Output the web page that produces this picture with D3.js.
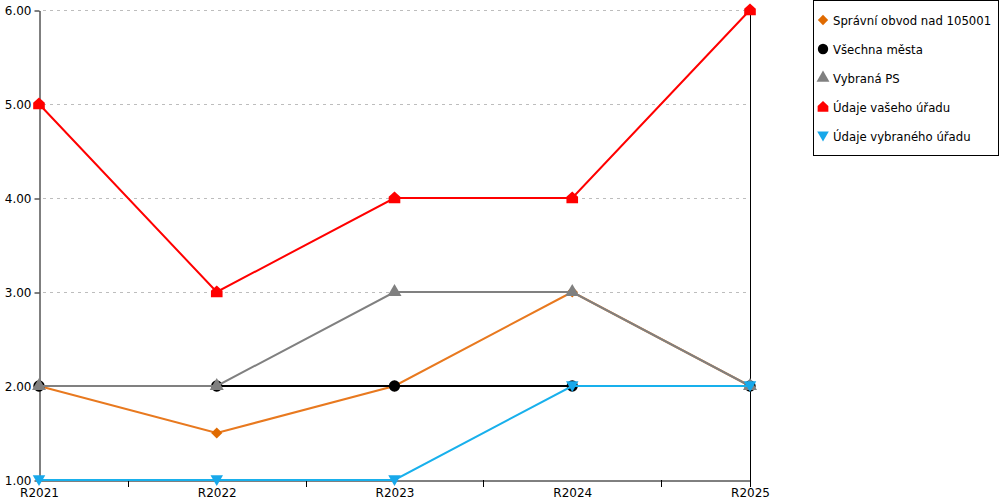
<!DOCTYPE html>
<html><head><meta charset="utf-8">
<script src="https://cdn.jsdelivr.net/npm/d3@7"></script>
<style>
html,body{margin:0;padding:0;background:#fff;}
svg{display:block;font-family:"DejaVu Sans",Verdana,sans-serif;}
</style></head>
<body><svg id="c" width="1000" height="500"></svg>
<script>
const categories = ["R2021","R2022","R2023","R2024","R2025"];
const yTicks = [1,2,3,4,5,6];
const seriesNames = ["Správní obvod nad 105001","Všechna města","Vybraná PS","Údaje vašeho úřadu","Údaje vybraného úřadu"];
const seriesColors = ["#e8791f","#000000","#808080","#ff0000","#18b0ec"];
const markerColors = ["#e06a00","#000000","#808080","#ff0000","#18a8ea"];
const valsObvod = [2,1.5,2,3,2];
const valsMesta = [2,2,2,2,2];
const valsPS = [2,2,3,3,2];
const valsVas = [5,3,4,4,6];
const valsVybrany = [1,1,1,2,2];
const seriesValues = [valsObvod,valsMesta,valsPS,valsVas,valsVybrany];

const house = {draw(ctx,size){
  const s = Math.sqrt(size)/2;
  ctx.moveTo(0,-s*1.1);
  ctx.lineTo(s,-s*0.2);
  ctx.lineTo(s,s*0.9);
  ctx.lineTo(-s,s*0.9);
  ctx.lineTo(-s,-s*0.2);
  ctx.closePath();
}};
const downTri = {draw(ctx,size){
  const s = Math.sqrt(size)/2;
  ctx.moveTo(-s*1.1,-s*0.85);
  ctx.lineTo(s*1.1,-s*0.85);
  ctx.lineTo(0,s*1.05);
  ctx.closePath();
}};
const symTypes = [d3.symbolDiamond2 || d3.symbolDiamond, d3.symbolCircle, d3.symbolTriangle, house, downTri];
const symSizes = [80, 100, 85, 135, 130];

const svg = d3.select("#c");
const x = d3.scalePoint().domain(categories).range([39,750]).padding(0);
const y = d3.scaleLinear().domain([1,6]).range([480,10]);

// grid
svg.append("g").selectAll("line").data(yTicks.slice(1)).join("line")
  .attr("x1",43).attr("x2",750).attr("y1",d=>y(d)+0.5).attr("y2",d=>y(d)+0.5)
  .attr("stroke","#bdbdbd").attr("stroke-dasharray","3,4");

// right border
svg.append("line").attr("x1",750.5).attr("x2",750.5).attr("y1",y(6)).attr("y2",487)
  .attr("stroke","#000").attr("shape-rendering","crispEdges");

// y axis
const ya = svg.append("g").attr("transform","translate(39.5,0.5)")
  .call(d3.axisLeft(y).tickValues(yTicks).tickFormat(d3.format(".2f")).tickSize(5).tickSizeOuter(0).tickPadding(3));
ya.selectAll("text").attr("font-size",12).attr("fill","#000").attr("font-family","DejaVu Sans");
ya.select(".domain").attr("stroke","#000");

// x axis
const xa = svg.append("g").attr("transform","translate(0,480.5)")
  .call(d3.axisBottom(x).tickSize(0).tickPadding(8));
xa.selectAll("text").attr("font-size",12).attr("fill","#000").attr("font-family","DejaVu Sans");
xa.select(".domain").attr("stroke","#000");
const mids = categories.slice(1).map((c,i)=>(x(categories[i])+x(c))/2);
svg.append("g").selectAll("line").data(mids).join("line")
  .attr("x1",d=>Math.round(d)+0.5).attr("x2",d=>Math.round(d)+0.5).attr("y1",480).attr("y2",487)
  .attr("stroke","#000");

// series
const line = d3.line().x((d,i)=>x(categories[i])).y(d=>y(d));
seriesValues.forEach((vals,si)=>{
  const g = svg.append("g");
  g.append("path").datum(vals).attr("d",line).attr("fill","none")
    .attr("stroke",seriesColors[si]).attr("stroke-width",2);
  g.selectAll("path.m").data(vals).join("path").attr("class","m")
    .attr("transform",(d,i)=>`translate(${x(categories[i])},${y(d)})`)
    .attr("d",d3.symbol().type(symTypes[si]).size(symSizes[si]))
    .attr("fill",markerColors[si]);
});

// legend
const lg = svg.append("g");
lg.append("rect").attr("x",813.5).attr("y",0.5).attr("width",185).attr("height",155)
  .attr("fill","#fff").attr("stroke","#000");
seriesNames.forEach((n,i)=>{
  const yy = 20 + i*29;
  lg.append("path").attr("transform",`translate(823,${yy})`)
    .attr("d",d3.symbol().type(symTypes[i]).size(symSizes[i]*0.85)).attr("fill",markerColors[i]);
  lg.append("text").attr("x",833).attr("y",yy+4.5).attr("font-size",11.7)
    .attr("font-family","DejaVu Sans").attr("fill","#000").text(n);
});
</script></body></html>
